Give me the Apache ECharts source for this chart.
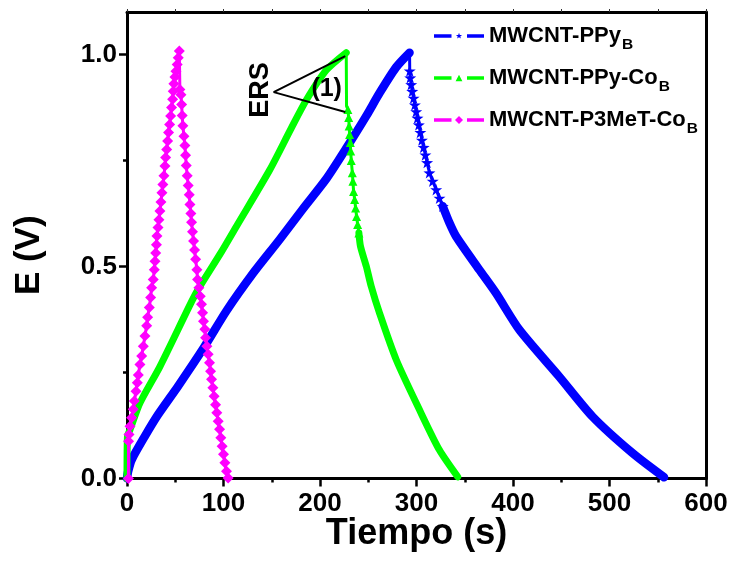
<!DOCTYPE html>
<html>
<head>
<meta charset="utf-8">
<script src="https://cdn.jsdelivr.net/npm/echarts@6/dist/echarts.min.js"></script>
<style>
  html, body { margin: 0; padding: 0; background: #ffffff; }
  #chart { width: 733px; height: 582px; }
</style>
</head>
<body>
<div id="chart"></div>
<script>
const FONT = '"Liberation Sans", Arial, Helvetica, sans-serif';

const seriesNames = ['MWCNT-PPy', 'MWCNT-PPy-Co', 'MWCNT-P3MeT-Co'];
const subscript = 'B';
const seriesColors = ['#0000ff', '#00ff00', '#ff00ff'];

const xTickValues = [0, 100, 200, 300, 400, 500, 600];
const yTickValues = [0, 0.5, 1.0];
const yMinorTickValues = [0.25, 0.75];

// Galvanostatic charge / discharge curves, [time (s), E (V)]
// MWCNT-PPy_B
const ppyCharge = [
  [0, 0], [1, 0.015], [4.8, 0.044], [18.6, 0.100], [32, 0.150], [53, 0.218],
  [80, 0.310], [103, 0.395], [131, 0.485], [158, 0.563], [182, 0.635],
  [207, 0.708], [227, 0.778], [248, 0.855], [262, 0.910], [279, 0.970], [292.8, 1.004]
];
const ppyDrop = [
  [293, 0.961], [293.5, 0.945], [294.5, 0.929], [295.6, 0.913], [297, 0.897],
  [298.3, 0.881], [299.7, 0.865], [301, 0.850], [302.4, 0.834], [304, 0.816],
  [305.6, 0.798], [307.4, 0.781], [309.2, 0.763], [311, 0.745], [313.4, 0.721],
  [316.8, 0.701], [320.4, 0.681], [323.8, 0.661]
];
const ppyTail = [
  [327.2, 0.642], [334.1, 0.603], [341, 0.571], [365.2, 0.492], [382.4, 0.437],
  [406.5, 0.351], [448, 0.240], [482.4, 0.146], [523.8, 0.060], [556.5, 0.003]
];

// MWCNT-PPy-Co_B
const ppyCoCharge = [
  [0, 0], [0.5, 0.100], [3.1, 0.115], [13.4, 0.178], [34.1, 0.264], [66.9, 0.417],
  [75.5, 0.453], [98, 0.535], [113.5, 0.595], [148, 0.728], [170, 0.825],
  [186, 0.893], [206.6, 0.963], [227.2, 1.004]
];
const ppyCoDrop = [
  [227.5, 0.878], [228.9, 0.870], [229.7, 0.851], [230.2, 0.831], [230.7, 0.811],
  [231.4, 0.792], [231.8, 0.772], [232.4, 0.750], [233.5, 0.721], [234.1, 0.701],
  [234.8, 0.677], [235.9, 0.658], [236.9, 0.638], [237.9, 0.618], [239.0, 0.599]
];
const ppyCoTail = [
  [240.3, 0.579], [242, 0.547], [248, 0.500], [253.1, 0.453], [261.7, 0.390],
  [279, 0.280], [303.1, 0.162], [323.8, 0.067], [342.7, 0.004]
];

// MWCNT-P3MeT-Co_B
const p3metCharge = [
  [1.5, 0], [1.6, 0.088], [2.1, 0.104], [3.1, 0.123], [4.8, 0.143], [6.5, 0.163],
  [7.6, 0.183], [9.3, 0.206], [10.7, 0.226], [11.7, 0.244], [13.4, 0.269],
  [15.2, 0.289], [16.9, 0.312], [18.6, 0.336], [20.4, 0.360], [21.4, 0.380],
  [23.1, 0.403], [24.5, 0.427], [25.5, 0.450], [27.2, 0.469], [28.3, 0.492],
  [29.0, 0.512], [29.7, 0.532], [30.5, 0.551], [31.0, 0.572], [32.1, 0.592],
  [33.1, 0.610], [34.1, 0.631], [35.2, 0.652], [36.2, 0.674], [37.2, 0.693],
  [38.3, 0.714], [39.3, 0.737], [40.0, 0.757], [41.1, 0.776], [42.1, 0.796],
  [43.1, 0.816], [44.2, 0.835], [45.2, 0.855], [46.2, 0.875], [47.3, 0.894],
  [47.9, 0.913], [48.6, 0.931], [49.7, 0.947], [50.7, 0.960], [52.0, 0.976],
  [53.1, 0.992], [54.2, 1.008]
];
const p3metDischarge = [
  [54.8, 0.917], [55.9, 0.905], [56.6, 0.882], [57.2, 0.856], [57.9, 0.832],
  [59.0, 0.807], [60.0, 0.785], [60.7, 0.762], [61.4, 0.738], [62.4, 0.714],
  [63.4, 0.691], [64.5, 0.669], [65.2, 0.646], [66.2, 0.625], [66.9, 0.604],
  [67.9, 0.582], [69.0, 0.560], [70.0, 0.539], [71.1, 0.517], [72.4, 0.492],
  [73.1, 0.469], [74.5, 0.450], [75.9, 0.430], [77.2, 0.411], [78.3, 0.391],
  [79.3, 0.371], [80.7, 0.352], [81.4, 0.332], [82.8, 0.312], [84.1, 0.293],
  [85.5, 0.273], [86.6, 0.253], [87.6, 0.234], [89.0, 0.214], [90.3, 0.194],
  [91.8, 0.174], [93.1, 0.155], [94.5, 0.135], [95.9, 0.116], [97.2, 0.096],
  [98.6, 0.076], [100.0, 0.057], [101.4, 0.037], [103.1, 0.017], [104.8, 0.001]
];

// ERS (ohmic drop) annotation, in axis units
const ersBracket = [[226.2, 0.996], [152, 0.911], [226.2, 0.864]];
const ersLabelAt = [138.3, 0.916];
const ersIndexAt = [206.9, 0.917];

const STAR = 'path://M12,0 L14.9,8.1 L23.4,8.3 L16.6,13.5 L19.1,21.7 L12,16.8 L4.9,21.7 L7.4,13.5 L0.6,8.3 L9.1,8.1 Z';

// Legend icons: dash - marker - dash (50 x 12 box)
const DASHES = 'M0,0 M50,12 M0,4.25 h17.5 v3.5 H0 Z M33,4.25 h17 v3.5 H33 Z ';
const legendIcons = [
  'path://' + DASHES + 'M25,2.8 L25.79,4.91 L28.04,5.01 L26.28,6.42 L26.88,8.59 L25,7.35 L23.12,8.59 L23.72,6.42 L21.96,5.01 L24.21,4.91 Z',
  'path://' + DASHES + 'M21.6,9.3 L25,2.7 L28.4,9.3 Z',
  'path://' + DASHES + 'M25,2 L29,6 L25,10 L21,6 Z'
];

const fullName = i => seriesNames[i] + '_' + subscript;

const chart = echarts.init(document.getElementById('chart'), null, { renderer: 'canvas' });

// Line with markers; markers are shown for data indices in [from, to)
function markerSeries(i, data, symbol, size, from, to) {
  return {
    name: fullName(i),
    type: 'line',
    data: data,
    color: seriesColors[i],
    symbol: symbol,
    symbolSize: (value, params) => (params.dataIndex >= from && params.dataIndex < to) ? size : 0,
    showSymbol: true,
    showAllSymbol: true,
    symbolKeepAspect: true,
    lineStyle: { color: seriesColors[i], width: 3 },
    itemStyle: { color: seriesColors[i], borderWidth: 0, opacity: 1 },
    emphasis: { disabled: true },
    animation: false,
    z: 3 + i
  };
}
// Thick smooth stroke where the markers are packed into a solid band
function bandSeries(i, data, width) {
  return {
    name: fullName(i),
    type: 'line',
    data: data,
    color: seriesColors[i],
    showSymbol: false,
    symbol: 'none',
    smooth: 0.25,
    lineStyle: { color: seriesColors[i], width: width, cap: 'round', join: 'round' },
    itemStyle: { color: seriesColors[i] },
    emphasis: { disabled: true },
    silent: true,
    animation: false,
    z: 3 + i
  };
}

const axisBlack = { color: '#000', width: 3 };
const labelText = { fontFamily: FONT, fontWeight: 'bold', color: '#000', textBorderWidth: 0, opacity: 1 };

const ppyAll = ppyCharge.concat(ppyDrop, ppyTail);
const ppyCoAll = ppyCoCharge.concat(ppyCoDrop, ppyCoTail);
const p3metAll = p3metCharge.concat(p3metDischarge);

chart.setOption({
  backgroundColor: '#ffffff',
  animation: false,
  grid: { left: 127, right: 27, top: 12, bottom: 103.5, containLabel: false },
  legend: {
    data: [0, 1, 2].map(i => ({ name: fullName(i), icon: legendIcons[i], itemStyle: { color: seriesColors[i] } })),
    orient: 'vertical',
    left: 434,
    top: 19,
    padding: 0,
    itemWidth: 50,
    itemHeight: 12,
    itemGap: 8,
    selectedMode: false,
    formatter: name => '{m|' + name.split('_')[0] + '}{s|' + name.split('_')[1] + '}',
    textStyle: {
      fontFamily: FONT,
      color: '#000',
      rich: {
        m: { fontFamily: FONT, fontSize: 22, fontWeight: 'bold', color: '#000', lineHeight: 28 },
        s: { fontFamily: FONT, fontSize: 15.5, fontWeight: 'bold', color: '#000', lineHeight: 14, padding: [18, 0, 0, 1] }
      }
    }
  },
  xAxis: [
    {
      type: 'value', min: 0, max: 600, interval: 100, position: 'bottom',
      name: 'Tiempo (s)', nameLocation: 'middle', nameGap: 38, nameMoveOverlap: false,
      nameTextStyle: { fontFamily: FONT, fontSize: 36, fontWeight: 'bold', color: '#000' },
      axisLine: { show: true, onZero: false, lineStyle: axisBlack },
      axisTick: { show: true, inside: false, length: 8, lineStyle: { color: '#000', width: 2.5 } },
      minorTick: { show: true, splitNumber: 2, length: 4, lineStyle: { color: '#000', width: 2.5 } },
      axisLabel: Object.assign({
        show: true, margin: 12, fontSize: 26,
        customValues: xTickValues, formatter: v => String(v)
      }, labelText),
      splitLine: { show: false }
    },
    {
      type: 'value', min: 0, max: 600, interval: 50, position: 'top',
      axisLine: { show: true, onZero: false, lineStyle: axisBlack },
      axisTick: { show: true, inside: false, length: 3, lineStyle: { color: '#333', width: 1 } },
      axisLabel: { show: false },
      splitLine: { show: false }
    }
  ],
  yAxis: [
    {
      type: 'value', min: 0, max: 1.1, interval: 0.5, position: 'left',
      name: 'E (V)', nameLocation: 'middle', nameGap: 80,
      nameTextStyle: { fontFamily: FONT, fontSize: 35, fontWeight: 'bold', color: '#000', padding: [0, 20, 0, 0] },
      axisLine: { show: true, onZero: false, lineStyle: axisBlack },
      axisTick: { show: true, inside: false, length: 8, customValues: yTickValues, lineStyle: { color: '#000', width: 2.5 } },
      axisLabel: Object.assign({
        show: true, margin: 10, fontSize: 26,
        customValues: yTickValues, formatter: v => v.toFixed(1)
      }, labelText),
      splitLine: { show: false }
    },
    {
      type: 'value', min: 0, max: 1.1, position: 'left',
      axisLine: { show: false },
      axisTick: { show: true, inside: false, length: 4, customValues: yMinorTickValues, lineStyle: { color: '#000', width: 2.5 } },
      axisLabel: { show: false },
      splitLine: { show: false }
    },
    {
      type: 'value', min: 0, max: 1.1, position: 'right',
      axisLine: { show: true, onZero: false, lineStyle: axisBlack },
      axisTick: { show: false },
      axisLabel: { show: false },
      splitLine: { show: false }
    }
  ],
  series: [
    bandSeries(0, ppyCharge, 8.5),
    bandSeries(0, ppyTail, 8.5),
    markerSeries(0, ppyAll, STAR, 12, ppyCharge.length, ppyCharge.length + ppyDrop.length + 1),
    bandSeries(1, ppyCoCharge, 7),
    bandSeries(1, ppyCoTail, 7),
    markerSeries(1, ppyCoAll, 'triangle', 9, ppyCoCharge.length + 1, ppyCoCharge.length + ppyCoDrop.length + 1),
    markerSeries(2, p3metAll, 'diamond', 11, 0, p3metAll.length),
    {
      type: 'line', data: ersBracket, symbol: 'none', silent: true, animation: false,
      lineStyle: { color: '#000', width: 2 }, emphasis: { disabled: true }, z: 10
    },
    {
      type: 'scatter', silent: true, animation: false, symbolSize: 1, z: 10,
      itemStyle: { color: 'rgba(0,0,0,0)' }, emphasis: { disabled: true },
      data: [ersLabelAt],
      label: Object.assign({
        show: true, position: 'inside', rotate: 90, formatter: 'ERS', fontSize: 27
      }, labelText)
    },
    {
      type: 'scatter', silent: true, animation: false, symbolSize: 1, z: 10,
      itemStyle: { color: 'rgba(0,0,0,0)' }, emphasis: { disabled: true },
      data: [ersIndexAt],
      label: Object.assign({
        show: true, position: 'inside', formatter: '(1)', fontSize: 25
      }, labelText)
    }
  ]
});
</script>
</body>
</html>
